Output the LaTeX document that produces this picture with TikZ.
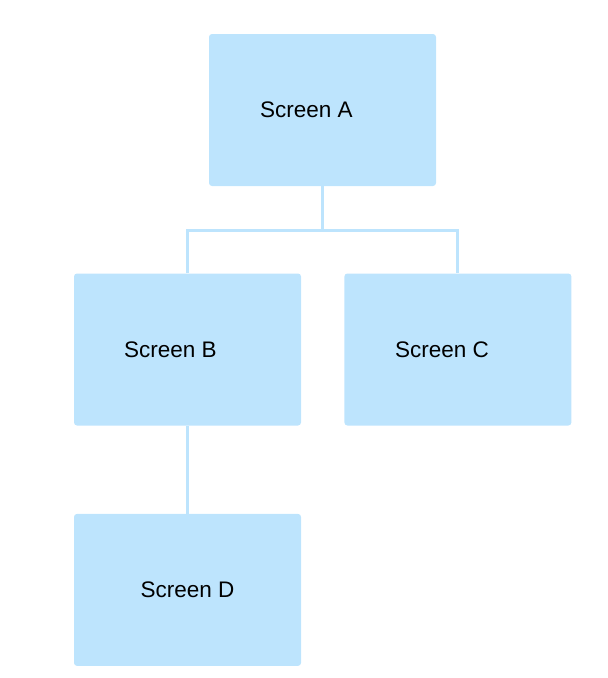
\documentclass[tikz,border=0pt]{standalone}
\usepackage{fontspec}
\setmainfont{Liberation Sans}
\usetikzlibrary{positioning}
\definecolor{screenblue}{HTML}{BDE4FD}

\begin{document}
\begin{tikzpicture}[
    x=1pt, y=-1pt,
    font=\fontsize{22.5}{26}\selectfont,
    box/.style={fill=screenblue, rounded corners=3pt, minimum width=227pt, minimum height=152pt, inner sep=0pt},
    link/.style={draw=screenblue, line width=3pt}
  ]
    \useasboundingbox (0,0) rectangle (608,678);
    \node[box, label={[xshift=-16pt]center:Screen A}] (scra) at (322.5,110) {};
    \node[box, label={[xshift=-17pt]center:Screen B}] (scrb) at (187.5,349.5) {};
    \node[box, right=43pt of scrb, label={[xshift=-16pt]center:Screen C}] (scrc) {};
    \node[box, below=88pt of scrb, label={center:Screen D}] (scrd) {};
    \coordinate (split) at (scra.south |- 0,230);
    \draw[link] (scra.south) -- (split);
    \draw[link] (scrb.north) -- ++(0,-43) -| (scrc.north);
    \draw[link] (scrb.south) -- (scrd.north);
  \end{tikzpicture}
\end{document}
